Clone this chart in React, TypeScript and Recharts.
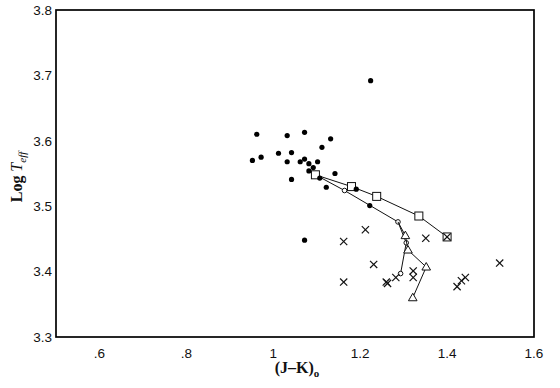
import { ScatterChart, Scatter, XAxis, YAxis } from 'recharts';

// filled dots
const dotJK = [0.962, 1.032, 1.072, 1.132, 1.112, 1.012, 1.042, 0.952, 0.972, 1.032, 1.062, 1.072, 1.082, 1.102, 1.092, 1.082, 1.142, 1.042, 1.122, 1.107, 1.191, 1.222, 1.072, 1.224];
const dotLogT = [3.61, 3.608, 3.613, 3.603, 3.59, 3.581, 3.582, 3.57, 3.575, 3.568, 3.568, 3.572, 3.565, 3.568, 3.559, 3.554, 3.55, 3.541, 3.529, 3.543, 3.526, 3.501, 3.448, 3.692];

// crosses
const crossJK = [1.212, 1.162, 1.351, 1.231, 1.162, 1.26, 1.263, 1.282, 1.322, 1.322, 1.521, 1.423, 1.433, 1.442, 1.4];
const crossLogT = [3.464, 3.446, 3.451, 3.411, 3.384, 3.384, 3.382, 3.391, 3.401, 3.391, 3.413, 3.377, 3.386, 3.391, 3.453];

// track with squares
const sqJK = [1.097, 1.18, 1.238, 1.335, 1.4];
const sqLogT = [3.548, 3.53, 3.515, 3.485, 3.453];

// track with small open circles (first point is the shared start)
const circJK = [1.097, 1.164, 1.287, 1.306, 1.293];
const circLogT = [3.548, 3.524, 3.476, 3.444, 3.397];

// track with triangles (first point is the shared start)
const triJK = [1.287, 1.304, 1.31, 1.352, 1.321];
const triLogT = [3.476, 3.455, 3.433, 3.407, 3.36];

const xTicks = [0.5, 0.55, 0.6, 0.65, 0.7, 0.75, 0.8, 0.85, 0.9, 0.95, 1, 1.05, 1.1, 1.15, 1.2, 1.25, 1.3, 1.35, 1.4, 1.45, 1.5, 1.55, 1.6];
const xMajorTicks = [0.6, 0.8, 1, 1.2, 1.4];
const yTicks = [3.3, 3.32, 3.34, 3.36, 3.38, 3.4, 3.42, 3.44, 3.46, 3.48, 3.5, 3.52, 3.54, 3.56, 3.58, 3.6, 3.62, 3.64, 3.66, 3.68, 3.7, 3.72, 3.74, 3.76, 3.78, 3.8];
const yMajorTicks = [3.4, 3.5, 3.6, 3.7];

const pts = (xs: number[], ys: number[], hideFirst = false) =>
  xs.map((x, i) => ({ x, y: ys[i], hide: hideFirst && i === 0 }));

const W = 560;
const H = 388;
const LEFT = 56;
const RIGHT = 534;
const TOP = 10;
const BOTTOM = 337;

const tickFont = '"Liberation Sans", Arial, sans-serif';
const titleFont = '"Liberation Serif", "DejaVu Serif", serif';

const isMult = (v: number, step: number) => Math.abs(v / step - Math.round(v / step)) < 1e-6;
const xMajor = (v: number) => isMult(v, 0.2) && v > 0.5;
const yMajor = (v: number) => isMult(v, 0.1);

const tickStroke = { stroke: '#000', strokeWidth: 1.8 };

const XTick = (props: any) => {
  const { x, payload, index } = props;
  const v = payload.value as number;
  const label = v < 1 ? String(v).replace('0.', '.') : String(v);
  return (
    <g>
      {xMajor(v) ? (
        <text x={x} y={BOTTOM + 21} textAnchor="middle" fontFamily={tickFont} fontSize={13.5} fill="#111">
          {label}
        </text>
      ) : null}
      {index === 0 ? (
        <text x={297} y={373} textAnchor="middle" fontFamily={titleFont} fontWeight="bold" fontSize={16} fill="#111">
          (J–K)
          <tspan fontSize={11} dy={4}>o</tspan>
        </text>
      ) : null}
    </g>
  );
};

// first y tick also draws the frame and the y title
const YTick = (props: any) => {
  const { y, payload, index } = props;
  const v = payload.value as number;
  return (
    <g>
      {index === 0 ? (
        <g>
          <rect x={LEFT} y={TOP} width={RIGHT - LEFT} height={BOTTOM - TOP} fill="none" stroke="#000" strokeWidth={1.7} />
          <text
            transform="translate(22,177) rotate(-90)"
            textAnchor="middle"
            fontFamily={titleFont}
            fontWeight="bold"
            fontSize={16}
            fill="#111"
          >
            Log <tspan fontStyle="italic" fontWeight="normal">T</tspan>
            <tspan fontStyle="italic" fontWeight="normal" fontSize={11} dy={4}>eff</tspan>
          </text>
        </g>
      ) : null}
      {yMajor(v) ? (
        <text x={LEFT - 4} y={y} dy="0.36em" textAnchor="end" fontFamily={tickFont} fontSize={13.5} fill="#111">
          {v.toFixed(1)}
        </text>
      ) : null}
    </g>
  );
};

const DotShape = (p: any) => <circle cx={p.cx} cy={p.cy} r={2.6} fill="#000" />;

const SquareShape = (p: any) =>
  p.payload.hide ? <g /> : (
    <rect x={p.cx - 4} y={p.cy - 4} width={8} height={8} fill="#fff" stroke="#111" strokeWidth={1} />
  );

const CircleShape = (p: any) =>
  p.payload.hide ? <g /> : <circle cx={p.cx} cy={p.cy} r={2.3} fill="#fff" stroke="#111" strokeWidth={1} />;

const TriShape = (p: any) =>
  p.payload.hide ? <g /> : (
    <polygon
      points={`${p.cx},${p.cy - 4.5} ${p.cx - 4.3},${p.cy + 3} ${p.cx + 4.3},${p.cy + 3}`}
      fill="#fff"
      stroke="#111"
      strokeWidth={1}
    />
  );

const CrossShape = (p: any) => {
  const s = 3.6;
  return (
    <g stroke="#111" strokeWidth={1.2}>
      <line x1={p.cx - s} y1={p.cy - s} x2={p.cx + s} y2={p.cy + s} />
      <line x1={p.cx - s} y1={p.cy + s} x2={p.cx + s} y2={p.cy - s} />
    </g>
  );
};

export default function App() {
  return (
    <div style={{ position: 'absolute', left: 0, top: 0, width: W, height: H, background: '#fff' }}>
      <ScatterChart width={W} height={H} margin={{ top: TOP, right: W - RIGHT, bottom: 0, left: 0 }}>
        {/* zero-size mirrored axes that only draw the inward tick marks */}
        <XAxis xAxisId="bMin" orientation="bottom" mirror type="number" domain={[0.5, 1.6]} ticks={xTicks} interval={0} tickSize={5} tick={false} axisLine={false} tickLine={tickStroke} height={0} />
        <XAxis xAxisId="bMaj" orientation="bottom" mirror type="number" domain={[0.5, 1.6]} ticks={xMajorTicks} interval={0} tickSize={10} tick={false} axisLine={false} tickLine={tickStroke} height={0} />
        <XAxis xAxisId="tMin" orientation="top" mirror type="number" domain={[0.5, 1.6]} ticks={xTicks} interval={0} tickSize={5} tick={false} axisLine={false} tickLine={tickStroke} height={0} />
        <XAxis xAxisId="tMaj" orientation="top" mirror type="number" domain={[0.5, 1.6]} ticks={xMajorTicks} interval={0} tickSize={10} tick={false} axisLine={false} tickLine={tickStroke} height={0} />
        <YAxis yAxisId="lMin" orientation="left" mirror type="number" domain={[3.3, 3.8]} ticks={yTicks} interval={0} tickSize={6} tick={false} axisLine={false} tickLine={tickStroke} width={0} />
        <YAxis yAxisId="lMaj" orientation="left" mirror type="number" domain={[3.3, 3.8]} ticks={yMajorTicks} interval={0} tickSize={11} tick={false} axisLine={false} tickLine={tickStroke} width={0} />
        <YAxis yAxisId="rMin" orientation="right" mirror type="number" domain={[3.3, 3.8]} ticks={yTicks} interval={0} tickSize={6} tick={false} axisLine={false} tickLine={tickStroke} width={0} />
        <YAxis yAxisId="rMaj" orientation="right" mirror type="number" domain={[3.3, 3.8]} ticks={yMajorTicks} interval={0} tickSize={11} tick={false} axisLine={false} tickLine={tickStroke} width={0} />
        <XAxis
          type="number"
          dataKey="x"
          domain={[0.5, 1.6]}
          ticks={xTicks}
          interval={0}
          tick={(p: any) => <XTick {...p} />}
          tickLine={false}
          axisLine={false}
          height={H - BOTTOM}
        />
        <YAxis
          type="number"
          dataKey="y"
          domain={[3.3, 3.8]}
          ticks={yTicks}
          interval={0}
          tick={(p: any) => <YTick {...p} />}
          tickLine={false}
          axisLine={false}
          width={LEFT}
        />
        <Scatter data={pts(circJK, circLogT, true)} line={{ stroke: '#111', strokeWidth: 1 }} shape={CircleShape} isAnimationActive={false} />
        <Scatter data={pts(triJK, triLogT, true)} line={{ stroke: '#111', strokeWidth: 1 }} shape={TriShape} isAnimationActive={false} />
        <Scatter data={pts(sqJK, sqLogT)} line={{ stroke: '#111', strokeWidth: 1 }} shape={SquareShape} isAnimationActive={false} />
        <Scatter data={pts(dotJK, dotLogT)} shape={DotShape} isAnimationActive={false} />
        <Scatter data={pts(crossJK, crossLogT)} shape={CrossShape} isAnimationActive={false} />
      </ScatterChart>
    </div>
  );
}
